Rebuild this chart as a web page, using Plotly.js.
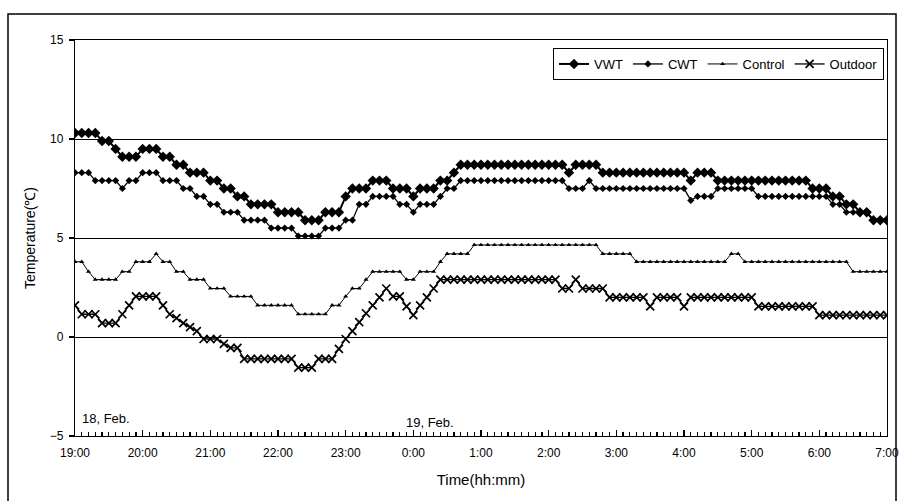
<!DOCTYPE html>
<html>
<head>
<meta charset="utf-8">
<script src="https://cdn.plot.ly/plotly-3.0.1.min.js"></script>
<style>
html,body{margin:0;padding:0;background:#fff;}
#chart{width:899px;height:501px;}
</style>
</head>
<body>
<div id="chart"></div>
<script>
// minutes after 19:00 (18 Feb) – one reading every 6 minutes
const minutes = [
0,6,12,18,24,30,36,42,48,54,
60,66,72,78,84,90,96,102,108,114,
120,126,132,138,144,150,156,162,168,174,
180,186,192,198,204,210,216,222,228,234,
240,246,252,258,264,270,276,282,288,294,
300,306,312,318,324,330,336,342,348,354,
360,366,372,378,384,390,396,402,408,414,
420,426,432,438,444,450,456,462,468,474,
480,486,492,498,504,510,516,522,528,534,
540,546,552,558,564,570,576,582,588,594,
600,606,612,618,624,630,636,642,648,654,
660,666,672,678,684,690,696,702,708,714,
720];

const tickMinutes = [0,60,120,180,240,300,360,420,480,540,600,660,720];
const tickLabels = ["19:00","20:00","21:00","22:00","23:00","0:00","1:00","2:00","3:00","4:00","5:00","6:00","7:00"];

const vwt = [
10.3,10.3,10.3,10.3,9.9,9.9,9.5,9.1,9.1,9.1,
9.5,9.5,9.5,9.1,9.1,8.7,8.7,8.3,8.3,8.3,
7.9,7.9,7.5,7.5,7.1,7.1,6.7,6.7,6.7,6.7,
6.3,6.3,6.3,6.3,5.9,5.9,5.9,6.3,6.3,6.3,
7.1,7.5,7.5,7.5,7.9,7.9,7.9,7.5,7.5,7.5,
7.1,7.5,7.5,7.5,7.9,7.9,8.3,8.7,8.7,8.7,
8.7,8.7,8.7,8.7,8.7,8.7,8.7,8.7,8.7,8.7,
8.7,8.7,8.7,8.3,8.7,8.7,8.7,8.7,8.3,8.3,
8.3,8.3,8.3,8.3,8.3,8.3,8.3,8.3,8.3,8.3,
8.3,7.9,8.3,8.3,8.3,7.9,7.9,7.9,7.9,7.9,
7.9,7.9,7.9,7.9,7.9,7.9,7.9,7.9,7.9,7.5,
7.5,7.5,7.1,7.1,6.7,6.7,6.3,6.3,5.9,5.9,
5.9];

const cwt = [
8.3,8.3,8.3,7.9,7.9,7.9,7.9,7.5,7.9,7.9,
8.3,8.3,8.3,7.9,7.9,7.9,7.5,7.5,7.1,7.1,
6.7,6.7,6.3,6.3,6.3,5.9,5.9,5.9,5.9,5.5,
5.5,5.5,5.5,5.1,5.1,5.1,5.1,5.5,5.5,5.5,
5.9,5.9,6.7,6.7,7.1,7.1,7.1,7.1,6.7,6.7,
6.3,6.7,6.7,6.7,7.1,7.5,7.5,7.9,7.9,7.9,
7.9,7.9,7.9,7.9,7.9,7.9,7.9,7.9,7.9,7.9,
7.9,7.9,7.9,7.5,7.5,7.5,7.9,7.5,7.5,7.5,
7.5,7.5,7.5,7.5,7.5,7.5,7.5,7.5,7.5,7.5,
7.5,6.9,7.1,7.1,7.1,7.5,7.5,7.5,7.5,7.5,
7.5,7.1,7.1,7.1,7.1,7.1,7.1,7.1,7.1,7.1,
7.1,7.1,6.7,6.7,6.3,6.3,6.3,6.3,5.9,5.9,
5.9];

const control = [
3.8,3.8,3.3,2.9,2.9,2.9,2.9,3.3,3.3,3.8,
3.8,3.8,4.2,3.8,3.8,3.3,3.3,2.9,2.9,2.9,
2.45,2.45,2.45,2.05,2.05,2.05,2.05,1.6,1.6,1.6,
1.6,1.6,1.6,1.15,1.15,1.15,1.15,1.15,1.6,1.6,
2.05,2.45,2.45,2.9,3.3,3.3,3.3,3.3,3.3,2.9,
2.9,3.3,3.3,3.3,3.8,4.2,4.2,4.2,4.2,4.65,
4.65,4.65,4.65,4.65,4.65,4.65,4.65,4.65,4.65,4.65,
4.65,4.65,4.65,4.65,4.65,4.65,4.65,4.65,4.2,4.2,
4.2,4.2,4.2,3.8,3.8,3.8,3.8,3.8,3.8,3.8,
3.8,3.8,3.8,3.8,3.8,3.8,3.8,4.2,4.2,3.8,
3.8,3.8,3.8,3.8,3.8,3.8,3.8,3.8,3.8,3.8,
3.8,3.8,3.8,3.8,3.8,3.3,3.3,3.3,3.3,3.3,
3.3];

const outdoor = [
1.6,1.15,1.15,1.15,0.7,0.7,0.7,1.15,1.6,2.05,
2.05,2.05,2.05,1.6,1.15,0.95,0.7,0.5,0.3,-0.1,
-0.1,-0.1,-0.35,-0.55,-0.55,-1.1,-1.1,-1.1,-1.1,-1.1,
-1.1,-1.1,-1.1,-1.55,-1.55,-1.55,-1.1,-1.1,-1.1,-0.6,
-0.1,0.3,0.75,1.2,1.6,2.0,2.45,2.05,2.05,1.55,
1.1,1.6,2.0,2.45,2.9,2.9,2.9,2.9,2.9,2.9,
2.9,2.9,2.9,2.9,2.9,2.9,2.9,2.9,2.9,2.9,
2.9,2.9,2.45,2.45,2.9,2.45,2.45,2.45,2.45,2.0,
2.0,2.0,2.0,2.0,2.0,1.55,2.0,2.0,2.0,2.0,
1.55,2.0,2.0,2.0,2.0,2.0,2.0,2.0,2.0,2.0,
2.0,1.55,1.55,1.55,1.55,1.55,1.55,1.55,1.55,1.55,
1.1,1.1,1.1,1.1,1.1,1.1,1.1,1.1,1.1,1.1,
1.1];

const seriesNames = ["VWT","CWT","Control","Outdoor"];
const dateLabels = ["18, Feb.","19, Feb."];
const dateLabelX = [4, 292];

const FONT = "'Liberation Sans', Arial, sans-serif";

const traces = [
  {x: minutes, y: vwt, name: seriesNames[0], mode: "lines+markers",
   line: {color: "#000", width: 2},
   marker: {symbol: "diamond", size: 8, color: "#000"}},
  {x: minutes, y: cwt, name: seriesNames[1], mode: "lines+markers",
   line: {color: "#000", width: 1.3},
   marker: {symbol: "diamond", size: 5.5, color: "#000"}},
  {x: minutes, y: control, name: seriesNames[2], mode: "lines+markers",
   line: {color: "#000", width: 1},
   marker: {symbol: "triangle-up", size: 4.5, color: "#000"}},
  {x: minutes, y: outdoor, name: seriesNames[3], mode: "lines+markers",
   line: {color: "#000", width: 1.3},
   marker: {symbol: "x-thin", size: 8, color: "#000", line: {color: "#000", width: 1.7}}}
];

const L = 75, R = 887, T = 40, B = 436;
const pw = R - L, ph = B - T;
const px = v => (v - L) / pw;
const py = v => (B - v) / ph;

const layout = {
  width: 899, height: 501,
  margin: {l: L, r: 899 - R, t: T, b: 501 - B},
  paper_bgcolor: "#fff", plot_bgcolor: "#fff",
  font: {family: FONT, size: 12, color: "#000"},
  showlegend: true,
  legend: {
    orientation: "h", x: px(884), xanchor: "right", y: py(48), yanchor: "top",
    bordercolor: "#000", borderwidth: 1, bgcolor: "#fff",
    font: {family: FONT, size: 13, color: "#000"},
    itemwidth: 30, tracegroupgap: 0
  },
  xaxis: {
    range: [0, 720], tickmode: "array", tickvals: tickMinutes, ticktext: tickLabels,
    ticks: "inside", ticklen: 6, tickcolor: "#000", tickwidth: 1.5,
    minor: {tickvals: minutes, ticks: "inside", ticklen: 4, tickcolor: "#000", tickwidth: 1.2, showgrid: false},
    showline: true, linecolor: "#000", linewidth: 1.2, mirror: true,
    showgrid: false, zeroline: false,
    tickfont: {family: FONT, size: 12, color: "#000"},
    ticklabelstandoff: 5, ticklabeloverflow: "allow",
    title: {text: "Time(hh:mm)", font: {family: FONT, size: 15, color: "#000"}, standoff: 16}
  },
  yaxis: {
    range: [-5, 15], tickmode: "linear", tick0: -5, dtick: 5,
    ticks: "outside", ticklen: 5, tickcolor: "#000", tickwidth: 1.2,
    showline: true, linecolor: "#000", linewidth: 1.2, mirror: true,
    showgrid: true, gridcolor: "#000", gridwidth: 1, zeroline: false,
    tickfont: {family: FONT, size: 12, color: "#000"},
    ticklabelstandoff: 3,
    title: {text: "Temperature(℃)", font: {family: FONT, size: 14, color: "#000"}, standoff: 10}
  },
  annotations: [
    {x: dateLabelX[0], y: -4.1, xref: "x", yref: "y", text: dateLabels[0], showarrow: false,
     xanchor: "left", yanchor: "middle", font: {family: FONT, size: 13, color: "#000"}},
    {x: dateLabelX[1], y: -4.3, xref: "x", yref: "y", text: dateLabels[1], showarrow: false,
     xanchor: "left", yanchor: "middle", font: {family: FONT, size: 13, color: "#000"}}
  ],
  shapes: [
    {type: "rect", xref: "paper", yref: "paper",
     x0: px(8), x1: px(896), y0: py(520), y1: py(14),
     line: {color: "#000", width: 1.5}, fillcolor: "rgba(0,0,0,0)", layer: "below"}
  ]
};

Plotly.newPlot("chart", traces, layout, {displayModeBar: false, staticPlot: true});
</script>
</body>
</html>
